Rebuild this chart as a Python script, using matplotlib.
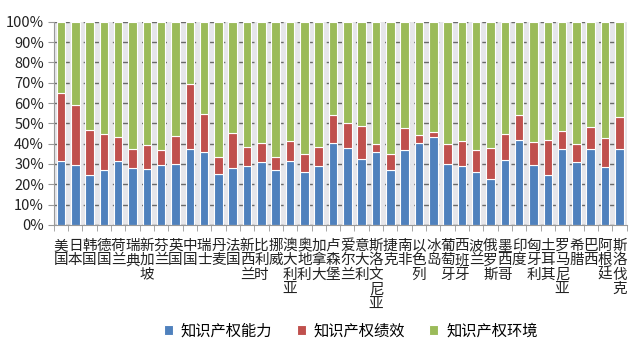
import numpy as np
import matplotlib
matplotlib.use("Agg")
import matplotlib.pyplot as plt
from matplotlib.ticker import MultipleLocator, PercentFormatter

plt.rcParams['font.family'] = ['Noto Sans CJK SC', 'DejaVu Sans']

countries = ["美国", "日本", "韩国", "德国", "荷兰", "瑞典", "新加坡", "芬兰", "英国", "中国",
             "瑞士", "丹麦", "法国", "新西兰", "比利时", "挪威", "澳大利亚", "奥地利", "加拿大", "卢森堡",
             "爱尔兰", "意大利", "斯洛文尼亚", "捷克", "南非", "以色列", "冰岛", "葡萄牙", "西班牙", "波兰",
             "俄罗斯", "墨西哥", "印度", "匈牙利", "土耳其", "罗马尼亚", "希腊", "巴西", "阿根廷", "斯洛伐克"]

# shares in percent
capability = [31.6, 29.3, 24.8, 26.9, 31.5, 27.9, 27.5, 29.7, 30.2, 37.5,
              36.1, 25.1, 27.9, 29.0, 30.8, 27.0, 31.6, 26.2, 29.2, 40.2,
              38.0, 32.6, 36.1, 27.0, 36.9, 40.5, 43.4, 30.0, 29.0, 25.9,
              22.5, 31.8, 42.0, 29.7, 24.8, 37.5, 31.1, 37.5, 28.4, 37.5]
performance = [33.2, 29.6, 22.1, 17.9, 11.9, 9.6, 11.7, 7.2, 13.7, 32.0,
               18.5, 8.2, 17.5, 9.2, 9.4, 6.3, 9.7, 8.6, 9.3, 13.9,
               12.0, 15.9, 3.7, 7.9, 10.8, 3.6, 2.2, 9.7, 12.1, 10.8,
               15.4, 13.0, 11.9, 11.3, 17.0, 8.7, 8.6, 10.5, 14.6, 15.5]
environment = [100 - a - b for a, b in zip(capability, performance)]

series_names = ["知识产权能力", "知识产权绩效", "知识产权环境"]
colors = ["#4f81bd", "#c0504d", "#9bbb59"]

fig = plt.figure(figsize=(6.4, 3.52), dpi=100)
ax = fig.add_axes([0.084, 0.361, 0.895, 0.577])
ax.set_facecolor("#e6e6ea")

x = np.arange(len(countries))
bottom = np.zeros(len(countries))
for name, vals, c in zip(series_names, [capability, performance, environment], colors):
    vals = np.array(vals)
    ax.bar(x, vals, 0.6, bottom=bottom, color=c, edgecolor="white", linewidth=0.8,
           label=name, zorder=2)
    bottom += vals

ax.set_xlim(-0.5, len(countries) - 0.5)
ax.set_ylim(0, 100)
ax.yaxis.set_major_locator(MultipleLocator(10))
ax.yaxis.set_major_formatter(PercentFormatter(decimals=0))
ax.set_axisbelow(True)
ax.grid(axis="y", color="#6a6a6a", linestyle=(0, (4, 3)), linewidth=1.0, zorder=1)

ax.set_xticks(x)
ax.set_xticklabels(["\n".join(c) for c in countries], fontsize=10.5, linespacing=1.04,
                   color="#222222")
ax.set_xticks(np.arange(-0.5, len(countries)), minor=True)
ax.tick_params(axis="x", which="major", length=0, pad=10)
ax.tick_params(axis="x", which="minor", length=4, color="#999999")
ax.tick_params(axis="y", length=4, color="#999999", labelsize=10.5, labelcolor="#222222",
               pad=3)

for s in ["top", "right"]:
    ax.spines[s].set_visible(False)
for s in ["left", "bottom"]:
    ax.spines[s].set_color("#999999")

fig.legend(loc="center", bbox_to_anchor=(0.548, 0.06), ncol=3, frameon=False,
           fontsize=11, handlelength=0.6, handleheight=0.6, columnspacing=1.6,
           handletextpad=0.5)

fig.savefig("out.png", dpi=100, facecolor="white")
